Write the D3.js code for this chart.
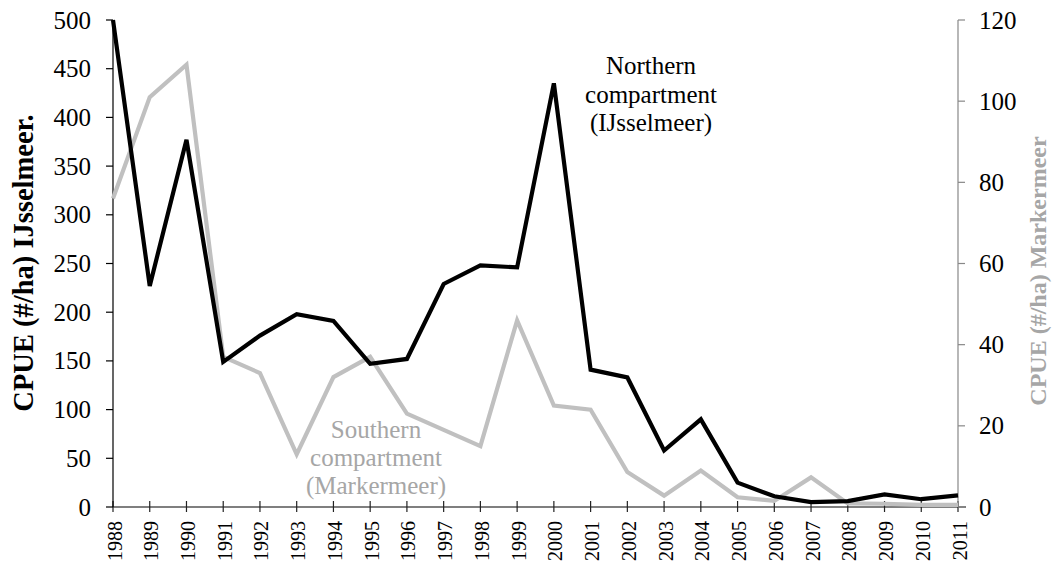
<!DOCTYPE html>
<html><head><meta charset="utf-8">
<script src="https://cdn.jsdelivr.net/npm/d3@7"></script>
<style>body{margin:0;background:#fff}svg{display:block}text{font-family:"Liberation Serif","Times New Roman",serif}</style>
</head><body>
<svg id="c" width="1054" height="566"></svg>
<script>
const years = [1988,1989,1990,1991,1992,1993,1994,1995,1996,1997,1998,1999,2000,2001,2002,2003,2004,2005,2006,2007,2008,2009,2010,2011];
const ijsselmeer = [500,227,377,149,176,198,191,147,152,229,248,246,435,141,133,58,90,25,11,5,6,13,8,12];
const markermeer = [76,101,109,37,33,13,32,37,23,19,15,46,25,24,8.6,2.8,9,2.4,1.5,7.3,0.9,0.8,0.5,0.5];
const leftTicks = [0,50,100,150,200,250,300,350,400,450,500];
const rightTicks = [0,20,40,60,80,100,120];

const svg = d3.select("#c");
const x0 = 113, x1 = 958, yTop = 20, yBot = 507;
const x = d3.scalePoint().domain(years).range([x0, x1]);
const yL = d3.scaleLinear().domain([0,500]).range([yBot, yTop]);
const yR = d3.scaleLinear().domain([0,120]).range([yBot, yTop]);

// x axis
const gx = svg.append("g").attr("transform",`translate(0,${yBot})`);
gx.append("line").attr("x1",x0).attr("x2",x1+8).attr("stroke","#555").attr("stroke-width",1.3);
gx.selectAll("line.t").data(years).join("line").attr("class","t")
  .attr("x1",d=>x(d)).attr("x2",d=>x(d)).attr("y1",-6).attr("y2",5).attr("stroke","#222").attr("stroke-width",1.2);
gx.selectAll("text").data(years).join("text")
  .attr("transform",d=>`translate(${x(d)+8.5},${14}) rotate(-90)`)
  .attr("text-anchor","end").attr("font-size",20).attr("fill","#000").text(d=>d);

// left axis
const gl = svg.append("g");
gl.append("line").attr("x1",x0).attr("x2",x0).attr("y1",yTop).attr("y2",yBot).attr("stroke","#000").attr("stroke-width",1.2);
gl.selectAll("line.t").data(leftTicks).join("line").attr("class","t")
  .attr("x1",x0-7).attr("x2",x0).attr("y1",d=>yL(d)).attr("y2",d=>yL(d)).attr("stroke","#000").attr("stroke-width",1.2);
gl.selectAll("text").data(leftTicks).join("text")
  .attr("x",x0-22).attr("y",d=>yL(d)+8.5).attr("text-anchor","end").attr("font-size",25).text(d=>d);

// right axis
const gr = svg.append("g");
gr.append("line").attr("x1",x1).attr("x2",x1).attr("y1",yTop).attr("y2",yBot).attr("stroke","#888").attr("stroke-width",1.2);
gr.selectAll("line.t").data(rightTicks).join("line").attr("class","t")
  .attr("x1",x1).attr("x2",x1+7).attr("y1",d=>yR(d)).attr("y2",d=>yR(d)).attr("stroke","#888").attr("stroke-width",1.2);
gr.selectAll("text").data(rightTicks).join("text")
  .attr("x",x1+21).attr("y",d=>yR(d)+8.5).attr("text-anchor","start").attr("font-size",25).text(d=>d);

// axis titles
svg.append("text").attr("transform","translate(33,263) rotate(-90)").attr("text-anchor","middle")
  .attr("font-size",28.5).attr("font-weight","bold").text("CPUE (#/ha) IJsselmeer.");
svg.append("text").attr("transform","translate(1046,271) rotate(-90)").attr("text-anchor","middle")
  .attr("font-size",24).attr("font-weight","bold").attr("fill","#a6a6a6").text("CPUE (#/ha) Markermeer");

// lines
svg.append("path").datum(markermeer.map((v,i)=>[years[i],v]))
  .attr("fill","none").attr("stroke","#c0c0c0").attr("stroke-width",4.2).attr("stroke-linejoin","miter")
  .attr("d", d3.line().x(d=>x(d[0])).y(d=>yR(d[1])));
svg.append("path").datum(ijsselmeer.map((v,i)=>[years[i],v]))
  .attr("fill","none").attr("stroke","#000").attr("stroke-width",4.2).attr("stroke-linejoin","miter")
  .attr("d", d3.line().x(d=>x(d[0])).y(d=>yL(d[1])));

// annotations
const north = ["Northern","compartment","(IJsselmeer)"];
svg.selectAll("text.n").data(north).join("text").attr("class","n")
  .attr("x",651).attr("y",(d,i)=>74+i*28.5).attr("text-anchor","middle").attr("font-size",25).text(d=>d);
const south = ["Southern","compartment","(Markermeer)"];
svg.selectAll("text.s").data(south).join("text").attr("class","s")
  .attr("x",376).attr("y",(d,i)=>438+i*28).attr("text-anchor","middle").attr("font-size",25).attr("fill","#a6a6a6").text(d=>d);
</script>
</body></html>
